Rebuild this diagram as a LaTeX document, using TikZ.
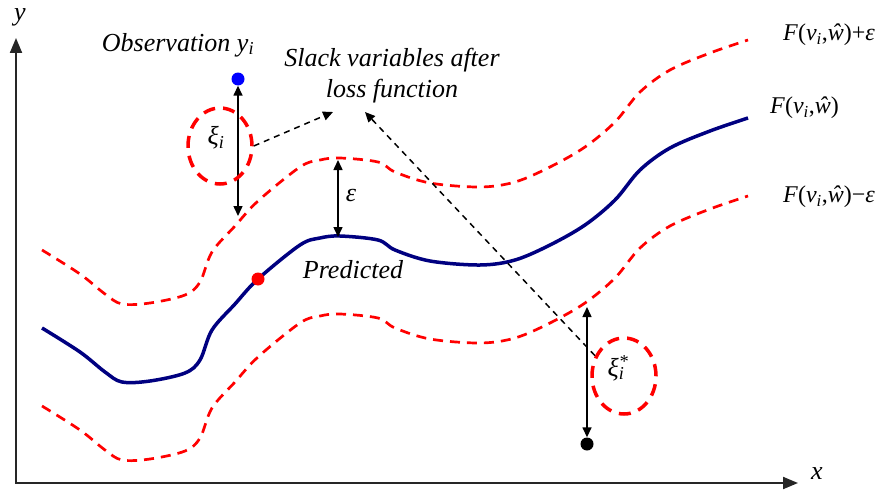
\documentclass[tikz,border=0pt]{standalone}
\usepackage{fontspec}
\setmainfont{Liberation Serif}
\usetikzlibrary{arrows.meta,shapes.geometric}
\definecolor{navyc}{RGB}{0,0,128}
\begin{document}
\begin{tikzpicture}[x=1pt,y=-1pt,
  lbl/.style={font=\fontsize{26}{31}\selectfont\itshape, inner sep=0pt},
  rlbl/.style={font=\fontsize{24}{30}\selectfont, inner sep=0pt, anchor=west},
  axis/.style={line width=2pt, draw=black!85, {Triangle[length=15pt,width=12pt]}-{Triangle[length=15pt,width=12pt]}},
  band/.style={red, line width=2.7pt, dash pattern=on 10pt off 7pt},
  pred/.style={navyc, line width=3.5pt},
  dim/.style={line width=1.5pt, {Triangle[length=10pt,width=9pt]}-{Triangle[length=10pt,width=9pt]}},
  slack/.style={ellipse, draw=red, line width=3.5pt, dash pattern=on 12pt off 8pt, minimum width=64pt, minimum height=76pt, inner sep=0pt},
  pointer/.style={line width=1.5pt, dash pattern=on 6pt off 5pt, -{Triangle[length=10pt,width=9pt]}},
  dot/.style={circle, inner sep=0pt, minimum size=13pt}
]
\useasboundingbox (0,0) rectangle (891,495);
% axes
\coordinate (O) at (16,483);
\coordinate (ytip) at (16,38);
\coordinate (xtip) at (798,483);
\draw[axis] (ytip) -- (O) -- (xtip);
\node[lbl] (xl) at (817,474) {x};
\node[lbl] (yl) at (20,17) {y};
% curves
\foreach \s/\st in {78/band,-78/band,0/pred}
  \draw[\st, yshift=\s pt] plot[smooth, tension=0.55] coordinates {
    (42,328) (80,352) (105,372) (122,382) (150,381) (185,373) (200,360)
    (212,330) (235,304) (258,279) (300,245) (320,238) (340,236) (378,240)
    (395,250) (430,261) (480,265) (515,260) (550,245) (585,225) (615,200)
    (640,170) (670,148) (710,131) (748,118)};
% dots
\node[dot, fill=blue] (obs) at (238,79) {};
\node[dot, fill=red] (pt) at (258,279) {};
\node[dot, fill=black] (low) at (587,444) {};
% dimension arrows
\coordinate (upA) at (238,216);
\draw[dim] (obs.south) -- (upA);
\coordinate (epsT) at (338,160);
\coordinate (epsB) at (338,237);
\draw[dim] (epsT) -- (epsB);
\node[lbl] (eps) at (351,196) {ε};
\coordinate (lowA) at (587,307);
\draw[dim] (lowA) -- (low.north);
% slack circles
\node[slack] (c1) at (220,146) {};
\node[lbl] (xi) at (216,138) {ξ\textsubscript{\textit{i}}};
\node[slack] (c2) at (624,376) {};
\node[lbl] (xis) at (618,368) {ξ\rlap{\textsubscript{\textit{i}}}\textsuperscript{*}};
% texts
\node[lbl] (obst) at (178,45) {Observation y\textsubscript{\textit{i}}};
\node[lbl, align=center] (slk) at (392,76) {Slack variables after\\loss function};
\node[lbl] (predt) at (353,270) {Predicted};
\node[rlbl] (fplus) at (783,35) {\textit{F}(\textit{v}\textsubscript{\textit{i}},\textit{ŵ})+\textit{ε}};
\node[rlbl] (fmid) at (770,108) {\textit{F}(\textit{v}\textsubscript{\textit{i}},\textit{ŵ})};
\node[rlbl] (fminus) at (783,197) {\textit{F}(\textit{v}\textsubscript{\textit{i}},\textit{ŵ})−\textit{ε}};
% pointers
\coordinate (p1) at (333,112);
\coordinate (p2) at (365,112);
\draw[pointer] (c1.east) -- (p1);
\draw[pointer] (c2.145) -- (p2);
\end{tikzpicture}
\end{document}
